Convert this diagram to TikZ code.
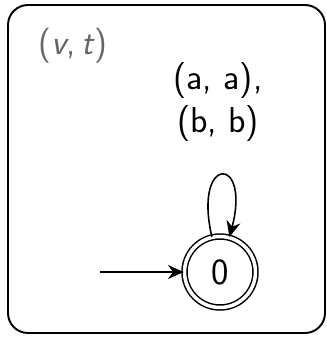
\documentclass[tikz,border=0pt]{standalone}
\usetikzlibrary{arrows.meta, positioning}
\tikzset{
  frame/.style={line width=1.1pt, rounded corners=0.4cm},
  state/.style={circle, draw, double, double distance=2pt, line width=0.85pt,
    minimum size=1.42cm, inner sep=0pt, font=\fontsize{21}{24}\sffamily},
  edgelabel/.style={align=center, font=\fontsize{20.5}{24}\sffamily},
  boxlabel/.style={text=black!60, font=\fontsize{20}{23}\sffamily}
}

\begin{document}
\begin{tikzpicture}[x=0.02cm, y=-0.02cm, >={Stealth[length=9pt, width=8pt]}]
\useasboundingbox (0,0) rectangle (327,339);
\draw[frame] (8,5) rectangle (325,333);
\node[boxlabel] (name) at (73,46) {(\textsl{v},\,\textsl{t})};
\node[state] (q0) at (220,272) {0};
\node[edgelabel] (lab) at (218,102) {(a, a),\\(b, b)};
\coordinate (start) at (100,272);
\draw[->, line width=0.9pt] (start) -- (q0);
\draw[->, line width=0.9pt] (q0) to[out=103, in=75, min distance=1.7cm] (q0);
\end{tikzpicture}
\end{document}
